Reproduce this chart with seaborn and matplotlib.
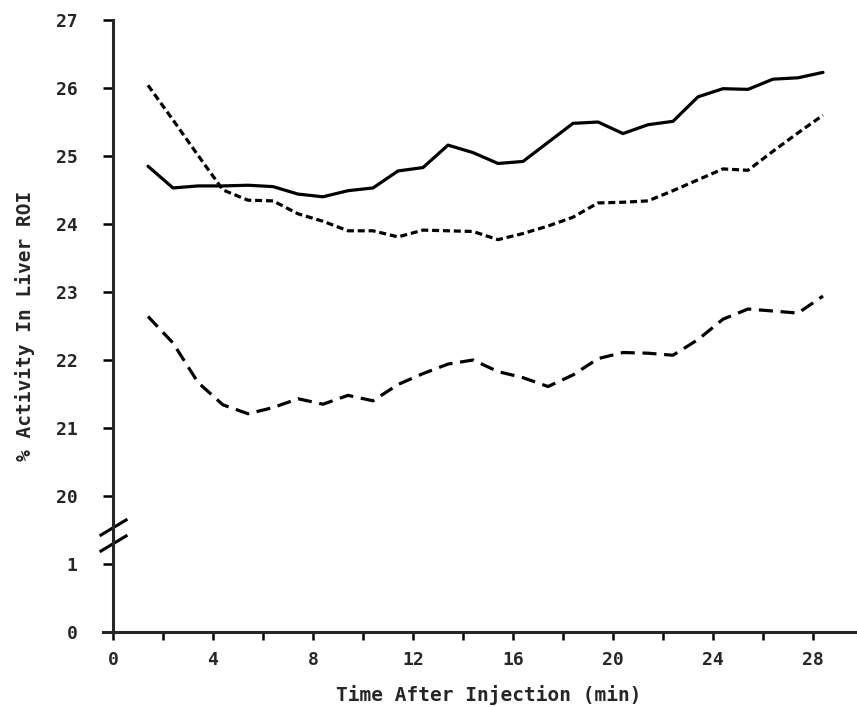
import numpy as np
import pandas as pd
import matplotlib
matplotlib.use("Agg")
import matplotlib.pyplot as plt
import matplotlib.transforms as mtransforms
from matplotlib.ticker import NullLocator
import seaborn as sns

# ---------------- data ----------------
time_min = [1.4, 2.4, 3.4, 4.4, 5.4, 6.4, 7.4, 8.4, 9.4, 10.4, 11.4, 12.4, 13.4, 14.4,
            15.4, 16.4, 17.4, 18.4, 19.4, 20.4, 21.4, 22.4, 23.4, 24.4, 25.4, 26.4, 27.4, 28.4]

solid_series = [24.85, 24.53, 24.56, 24.56, 24.57, 24.55, 24.44, 24.40, 24.49, 24.53,
                24.78, 24.83, 25.16, 25.05, 24.89, 24.92, 25.20, 25.48, 25.50, 25.33,
                25.46, 25.51, 25.87, 25.99, 25.98, 26.13, 26.15, 26.23]

short_dash_series = [26.04, 25.53, 25.01, 24.50, 24.35, 24.34, 24.15, 24.04, 23.90, 23.90,
                     23.81, 23.91, 23.90, 23.89, 23.77, 23.86, 23.97, 24.10, 24.31, 24.32,
                     24.34, 24.49, 24.65, 24.81, 24.79, 25.07, 25.34, 25.60]

long_dash_series = [22.64, 22.25, 21.67, 21.34, 21.21, 21.30, 21.43, 21.35, 21.48, 21.40,
                    21.64, 21.80, 21.94, 22.00, 21.83, 21.74, 21.61, 21.78, 22.02, 22.11,
                    22.10, 22.07, 22.30, 22.60, 22.75, 22.72, 22.69, 22.94]

series_names = ["solid", "short dash", "long dash"]

x_major_ticks = [0, 4, 8, 12, 16, 20, 24, 28]
x_minor_ticks = [2, 6, 10, 14, 18, 22, 26]
y_tick_values = [0, 1, 20, 21, 22, 23, 24, 25, 26, 27]
y_tick_labels = ["0", "1", "20", "21", "22", "23", "24", "25", "26", "27"]

x_label = "Time After Injection (min)"
y_label = "% Activity In Liver ROI"

# broken axis: values between 1.5 and 19.5 are skipped
GAP = 18.0


def fwd(y):
    y = np.asarray(y, dtype=float)
    return np.where(y >= 10.5, y - GAP, y)


def inv(v):
    v = np.asarray(v, dtype=float)
    return np.where(v >= 1.5, v + GAP, v)


# ---------------- figure ----------------
sns.set_style("ticks")
plt.rcParams["font.family"] = ["DejaVu Sans Mono", "DejaVu Sans"]
plt.rcParams["font.weight"] = "bold"

W, H = 857, 707
fig = plt.figure(figsize=(W / 100, H / 100), dpi=100)
ax = fig.add_axes([103 / W, 1 - 632 / H, 754 / W, 612 / H])
ax.set_yscale("function", functions=(fwd, inv))

df = pd.DataFrame({
    "time": time_min * 3,
    "activity": solid_series + short_dash_series + long_dash_series,
    "series": [series_names[0]] * len(time_min)
              + [series_names[1]] * len(time_min)
              + [series_names[2]] * len(time_min),
})

sns.lineplot(
    data=df, x="time", y="activity", style="series",
    dashes={"solid": "", "short dash": (2.2, 1.2), "long dash": (4.4, 2.4)},
    color="black", linewidth=2.3, legend=False, ax=ax,
    estimator=None, sort=False,
)

ax.set_xlim(-0.4, 29.76)
ax.set_ylim(0, 27)

for s in ["top", "right"]:
    ax.spines[s].set_visible(False)
ax.spines["left"].set_position(("data", 0))
ax.spines["left"].set_linewidth(2.2)
ax.spines["bottom"].set_linewidth(2.2)

ax.set_xticks(x_major_ticks)
ax.set_xticks(x_minor_ticks, minor=True)
ax.set_xticklabels([str(t) for t in x_major_ticks])
ax.set_yticks(y_tick_values)
ax.set_yticklabels(y_tick_labels)
ax.yaxis.set_minor_locator(NullLocator())

ax.tick_params(axis="x", which="both", direction="out", length=6, width=1.8,
               pad=8, labelsize=13, color="black")
ax.tick_params(axis="y", which="major", direction="out", length=7.5, width=1.8,
               pad=18, labelsize=13, color="black")
for lab in ax.get_xticklabels() + ax.get_yticklabels():
    lab.set_fontweight("bold")

ax.set_xlabel(x_label, fontsize=14, fontweight="bold")
ax.set_ylabel(y_label, fontsize=14, fontweight="bold")
ax.xaxis.set_label_coords(0.512, -0.087)
ax.yaxis.set_label_coords(-0.09, 0.5)

# break marks on the y axis
trans = mtransforms.blended_transform_factory(ax.transData, ax.transAxes)
d = 0.6
for frac in (1.309 / 9, 1.544 / 9):
    ax.plot([0], [frac], transform=trans, marker=[(-1, -d), (1, d)],
            markersize=20, linestyle="none", color="black",
            mec="black", mew=2.2, clip_on=False)

fig.savefig("out.png", dpi=100, facecolor="white")
